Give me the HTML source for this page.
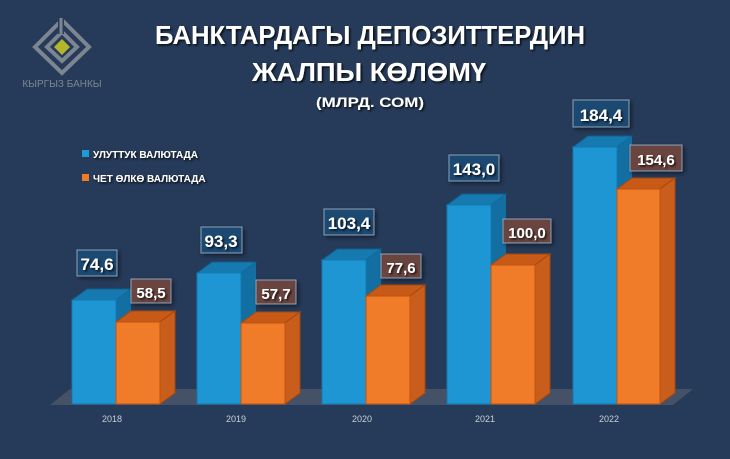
<!DOCTYPE html>
<html><head><meta charset="utf-8"><style>
html,body{margin:0;padding:0;background:#263b5a;}
svg{display:block}
text{font-family:"Liberation Sans","DejaVu Sans",sans-serif;font-weight:bold}
text.n{font-weight:normal}
</style></head><body>
<svg width="730" height="459" viewBox="0 0 730 459" xmlns="http://www.w3.org/2000/svg">
<defs>
<filter id="sh" x="-10%" y="-10%" width="130%" height="140%"><feDropShadow dx="1.5" dy="1.5" stdDeviation="1" flood-color="#000" flood-opacity="0.8"/></filter>
<filter id="bs" x="-20%" y="-20%" width="150%" height="150%"><feDropShadow dx="2" dy="2" stdDeviation="2" flood-color="#000" flood-opacity="0.5"/></filter>
</defs>
<rect width="730" height="459" fill="#263b5a"/>
<!-- logo -->
<g fill="none" stroke="#7d8591" stroke-width="4">
<polygon points="62,20 89,47 62,73 35,47"/>
<polygon points="62,32 77,47 62,61 47,47"/>
</g>
<polygon points="62,39 70,47 62,55 54,47" fill="#b5b52c"/>
<rect x="58" y="16" width="6" height="18" fill="#263b5a"/>
<line x1="61" y1="18" x2="61" y2="34" stroke="#7d8591" stroke-width="3"/>
<text class="n" x="62" y="87" font-size="10" fill="#7d8591" text-anchor="middle" style="font-weight:normal">КЫРГЫЗ БАНКЫ</text>
<!-- title -->
<g filter="url(#sh)" fill="#fff">
<text x="370" y="44" font-size="26" text-anchor="middle" textLength="430" lengthAdjust="spacingAndGlyphs">БАНКТАРДАГЫ ДЕПОЗИТТЕРДИН</text>
<text x="369" y="81" font-size="26" text-anchor="middle" textLength="234" lengthAdjust="spacingAndGlyphs">ЖАЛПЫ КӨЛӨМҮ</text>
<text x="370" y="107" font-size="14" text-anchor="middle" textLength="108" lengthAdjust="spacingAndGlyphs">(МЛРД. СОМ)</text>
</g>
<!-- legend -->
<rect x="82" y="150" width="7" height="7" fill="#1e9ad6"/>
<rect x="82" y="174" width="7" height="7" fill="#f07a26"/>
<g fill="#fff" filter="url(#sh)" font-size="10">
<text x="93" y="158">УЛУТТУК ВАЛЮТАДА</text>
<text x="93" y="182">ЧЕТ ӨЛКӨ ВАЛЮТАДА</text>
</g>
<!-- floor -->
<polygon points="50,405 673,405 693,389 70,389" fill="#4a5668" opacity="0.85"/>
<!-- bars -->
<g stroke-width="1">
<polygon points="72,300 116,300 131,289 87,289" fill="#167ab0" stroke="#0f5f8c"/>
<polygon points="116,300 131,289 131,393 116,404" fill="#136fa2"/>
<rect x="72" y="300" width="44" height="104" fill="#1e96d4" stroke="#1278b0"/>
<polygon points="116,322 160,322 175,311 131,311" fill="#c65a16" stroke="#a8480e"/>
<polygon points="160,322 175,311 175,393 160,404" fill="#c95e1c" stroke="#a8480e"/>
<rect x="116" y="322" width="44" height="82" fill="#f07b28" stroke="#c0520e"/>
<polygon points="197,273 241,273 256,262 212,262" fill="#167ab0" stroke="#0f5f8c"/>
<polygon points="241,273 256,262 256,393 241,404" fill="#136fa2"/>
<rect x="197" y="273" width="44" height="131" fill="#1e96d4" stroke="#1278b0"/>
<polygon points="241,323 285,323 300,312 256,312" fill="#c65a16" stroke="#a8480e"/>
<polygon points="285,323 300,312 300,393 285,404" fill="#c95e1c" stroke="#a8480e"/>
<rect x="241" y="323" width="44" height="81" fill="#f07b28" stroke="#c0520e"/>
<polygon points="322,260 366,260 381,249 337,249" fill="#167ab0" stroke="#0f5f8c"/>
<polygon points="366,260 381,249 381,393 366,404" fill="#136fa2"/>
<rect x="322" y="260" width="44" height="144" fill="#1e96d4" stroke="#1278b0"/>
<polygon points="366,296 410,296 425,285 381,285" fill="#c65a16" stroke="#a8480e"/>
<polygon points="410,296 425,285 425,393 410,404" fill="#c95e1c" stroke="#a8480e"/>
<rect x="366" y="296" width="44" height="108" fill="#f07b28" stroke="#c0520e"/>
<polygon points="447,205 491,205 506,194 462,194" fill="#167ab0" stroke="#0f5f8c"/>
<polygon points="491,205 506,194 506,393 491,404" fill="#136fa2"/>
<rect x="447" y="205" width="44" height="199" fill="#1e96d4" stroke="#1278b0"/>
<polygon points="491,265 535,265 550,254 506,254" fill="#c65a16" stroke="#a8480e"/>
<polygon points="535,265 550,254 550,393 535,404" fill="#c95e1c" stroke="#a8480e"/>
<rect x="491" y="265" width="44" height="139" fill="#f07b28" stroke="#c0520e"/>
<polygon points="573,147 617,147 632,136 588,136" fill="#167ab0" stroke="#0f5f8c"/>
<polygon points="617,147 632,136 632,393 617,404" fill="#136fa2"/>
<rect x="573" y="147" width="44" height="257" fill="#1e96d4" stroke="#1278b0"/>
<polygon points="617,189 660,189 675,178 632,178" fill="#c65a16" stroke="#a8480e"/>
<polygon points="660,189 675,178 675,393 660,404" fill="#c95e1c" stroke="#a8480e"/>
<rect x="617" y="189" width="43" height="215" fill="#f07b28" stroke="#c0520e"/>
</g>
<!-- value labels -->
<g stroke="#8fa3bb" stroke-width="1" filter="url(#bs)">
<rect x="77" y="250" width="40" height="26" fill="#1c4a72"/>
<rect x="131" y="279" width="40" height="24" fill="#6a4540"/>
<rect x="201" y="227" width="41" height="26" fill="#1c4a72"/>
<rect x="256" y="280" width="40" height="24" fill="#6a4540"/>
<rect x="324" y="209" width="50" height="26" fill="#1c4a72"/>
<rect x="381" y="254" width="40" height="24" fill="#6a4540"/>
<rect x="449" y="155" width="50" height="26" fill="#1c4a72"/>
<rect x="503" y="219" width="48" height="24" fill="#6a4540"/>
<rect x="573" y="100" width="56" height="27" fill="#1c4a72"/>
<rect x="630" y="145" width="52" height="26" fill="#6a4540"/>
</g>
<g fill="#fff" font-size="17" text-anchor="middle" filter="url(#sh)">
<text x="97" y="270">74,6</text>
<text x="151" y="298" font-size="15">58,5</text>
<text x="221" y="247">93,3</text>
<text x="276" y="299" font-size="15">57,7</text>
<text x="349" y="229">103,4</text>
<text x="401" y="273" font-size="15">77,6</text>
<text x="474" y="175">143,0</text>
<text x="527" y="238" font-size="15">100,0</text>
<text x="601" y="121">184,4</text>
<text x="656" y="165" font-size="15">154,6</text>
</g>
<!-- years -->
<g fill="#c8d0dc" font-size="9" text-anchor="middle">
<text class="n" x="112" y="422" style="font-weight:normal">2018</text>
<text class="n" x="236" y="422" style="font-weight:normal">2019</text>
<text class="n" x="362" y="422" style="font-weight:normal">2020</text>
<text class="n" x="485" y="422" style="font-weight:normal">2021</text>
<text class="n" x="609" y="422" style="font-weight:normal">2022</text>
</g>
</svg>
</body></html>
